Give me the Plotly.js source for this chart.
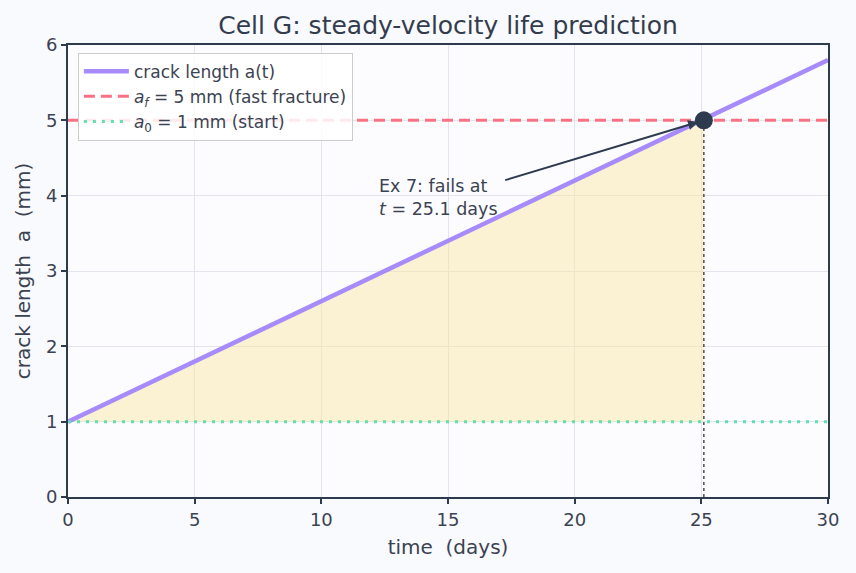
<!DOCTYPE html>
<html><head><meta charset="utf-8">
<script src="https://cdn.plot.ly/plotly-3.0.1.min.js"></script>
<style>html,body{margin:0;padding:0;background:#f9fafd;}</style>
</head><body>
<div id="chart" style="width:856px;height:573px;"></div>
<script>
// Data
const timeDays = [0, 30];
const crackLen = [1.0, 5.8];
const tFail = 25.1;
const aFail = 5.0;
const aFinal = 5.0;
const aStart = 1.0;
const fillX = [0, tFail];
const fillTop = [1.0, 5.0];
const fillBase = [1.0, 1.0];
const xTicks = [0, 5, 10, 15, 20, 25, 30];
const yTicks = [0, 1, 2, 3, 4, 5, 6];

const font = 'DejaVu Sans, sans-serif';
const dark = '#2e3a4e';

const traces = [
  {x: fillX, y: fillBase, mode: 'lines', line: {width: 0}, showlegend: false, hoverinfo: 'skip'},
  {x: fillX, y: fillTop, mode: 'lines', line: {width: 0}, fill: 'tonexty', fillcolor: 'rgba(250,230,160,0.45)', showlegend: false, hoverinfo: 'skip'},
  {x: [tFail, tFail], y: [0, aFail], mode: 'lines', line: {color: '#222', width: 1.2, dash: 'dot'}, showlegend: false},
  {x: timeDays, y: crackLen, mode: 'lines', name: 'crack length a(t)', line: {color: '#a78bfa', width: 4.5}},
  {x: [0, 30], y: [aFinal, aFinal], mode: 'lines', name: '<i>a<sub>f</sub></i> = 5 mm (fast fracture)', line: {color: '#f87185', width: 3, dash: '11px,6px'}},
  {x: [0, 30], y: [aStart, aStart], mode: 'lines', name: '<i>a</i><sub>0</sub> = 1 mm (start)', line: {color: '#5fe0ae', width: 3, dash: '3px,6px'}},
  {x: [tFail], y: [aFail], mode: 'markers', marker: {color: dark, size: 18}, showlegend: false}
];

const layout = {
  width: 856, height: 573,
  paper_bgcolor: '#f9fafd', plot_bgcolor: '#fcfcfe',
  font: {family: font, color: '#3b4252', size: 18},
  margin: {l: 68, r: 28, t: 45, b: 76},
  title: {text: 'Cell G: steady-velocity life prediction', xref: 'paper', x: 0.5, xanchor: 'center', yref: 'container', y: 0.956, yanchor: 'middle', font: {size: 25, color: '#333c4d'}},
  xaxis: {range: [0, 30], tickvals: xTicks, title: {text: 'time  (days)', font: {size: 20}, standoff: 11},
    tickfont: {size: 18},
    showgrid: true, gridcolor: '#e3e4ec', gridwidth: 1, zeroline: false,
    showline: true, linecolor: dark, linewidth: 2, mirror: true, ticks: 'outside', ticklen: 5, tickcolor: dark, tickwidth: 1.5},
  yaxis: {range: [0, 6], tickvals: yTicks, title: {text: 'crack length  a  (mm)', font: {size: 20}, standoff: 10},
    tickfont: {size: 18},
    showgrid: true, gridcolor: '#e3e4ec', gridwidth: 1, zeroline: false,
    showline: true, linecolor: dark, linewidth: 2, mirror: true, ticks: 'outside', ticklen: 5, tickcolor: dark, tickwidth: 1.5},
  legend: {x: 0.013, y: 0.983, xanchor: 'left', yanchor: 'top', traceorder: 'normal', itemwidth: 45, bgcolor: 'rgba(255,255,255,0.85)', bordercolor: '#cccccc', borderwidth: 1, font: {size: 17, color: '#3b4252'}, tracegroupgap: 0},
  annotations: [{
    x: tFail, y: aFail, xref: 'x', yref: 'y', ax: 17.2, ay: 4.2, axref: 'x', ayref: 'y',
    text: '', showarrow: true, arrowhead: 2, arrowsize: 1, arrowwidth: 2, arrowcolor: dark, standoff: 6
  }, {
    x: 12.2, y: 3.97, xref: 'x', yref: 'y', xanchor: 'left', yanchor: 'middle', align: 'left',
    text: 'Ex 7: fails at<br><i>t</i> = 25.1 days', showarrow: false, font: {size: 17.5, color: '#3b4252'}
  }]
};

Plotly.newPlot('chart', traces, layout, {displayModeBar: false});
</script>
</body></html>
